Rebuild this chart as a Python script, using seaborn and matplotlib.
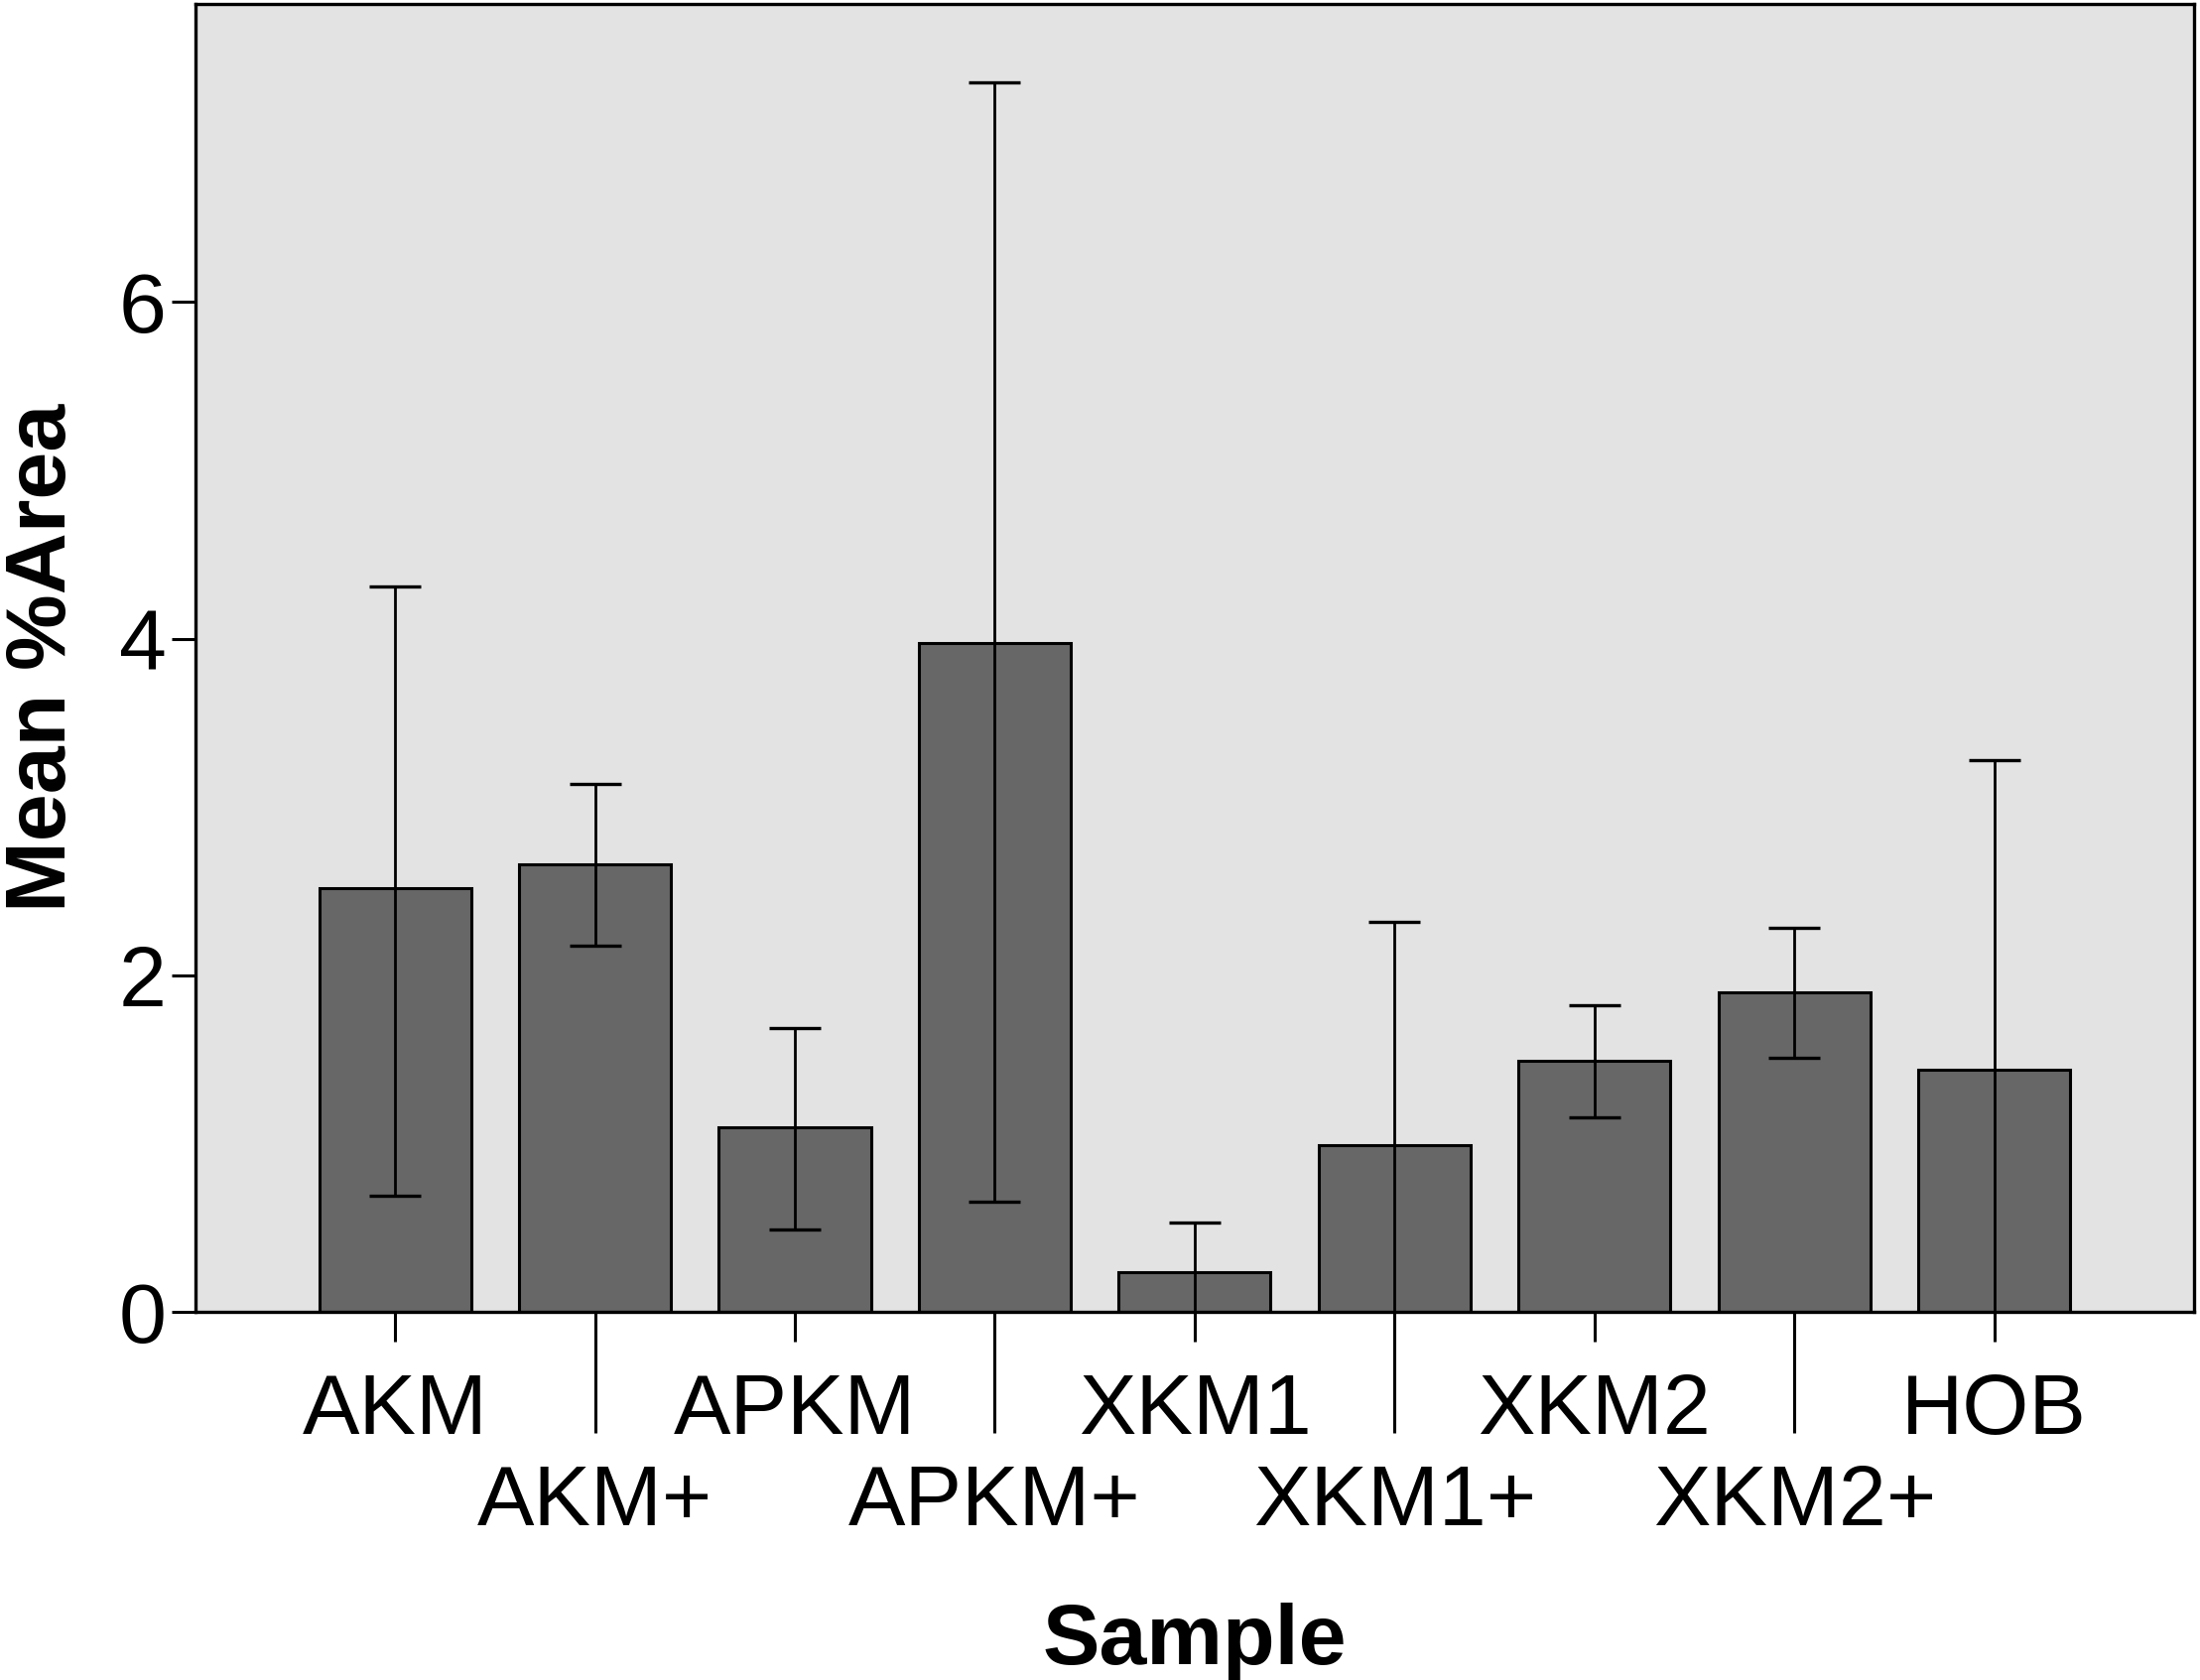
import matplotlib
matplotlib.use("Agg")
import matplotlib.pyplot as plt
import seaborn as sns
import numpy as np

samples = ["AKM", "AKM+", "APKM", "APKM+", "XKM1", "XKM1+", "XKM2", "XKM2+", "HOB"]
mean_area = [2.52, 2.66, 1.10, 3.975, 0.24, 0.99, 1.49, 1.90, 1.44]
ci_lower = [1.83, 0.485, 0.61, 3.32, 0.29, 1.33, 0.333, 0.39, 1.84]
ci_upper = [1.79, 0.48, 0.59, 3.33, 0.29, 1.33, 0.335, 0.38, 1.84]
y_ticks = [0, 2, 4, 6]

plt.rcParams['font.family'] = ['Liberation Sans', 'DejaVu Sans']

fig = plt.figure(figsize=(22.17, 16.93), dpi=100)
ax = fig.add_axes([0.0887, 0.219, 0.9087, 0.7785])
ax.set_facecolor('#e3e3e3')

sns.barplot(x=samples, y=mean_area, color='#676767', saturation=1, width=0.76,
            edgecolor='black', linewidth=2.2, errorbar=None, ax=ax)

ax.errorbar(x=np.arange(len(samples)), y=mean_area, yerr=[ci_lower, ci_upper],
            fmt='none', ecolor='black', elinewidth=2.0, capsize=18.7, capthick=2.4, zorder=3)

ax.set_xlim(-1.0, 9.0)
ax.set_ylim(0, 7.77)
ax.set_yticks(y_ticks, labels=[str(t) for t in y_ticks])

idx = np.arange(len(samples))
ax.set_xticks(idx[::2], labels=samples[::2])
ax.set_xticks(idx[1::2], labels=samples[1::2], minor=True)
ax.tick_params(axis='x', which='major', length=21.6, width=2.2, pad=22, labelsize=62, color='black')
ax.tick_params(axis='x', which='minor', length=88, width=2.2, pad=22, labelsize=62, color='black')
ax.tick_params(axis='y', which='major', length=17, width=2.2, pad=4, labelsize=62, color='black')

for s in ax.spines.values():
    s.set_linewidth(2.4)
    s.set_color('black')

ax.set_xlabel('Sample', fontsize=62, fontweight='bold', va='top')
ax.xaxis.set_label_coords(0.5, -0.222)
ax.set_ylabel('Mean %Area', fontsize=62, fontweight='bold')
ax.yaxis.set_label_coords(-0.056, 0.5)

fig.savefig('out.png', dpi=100)
